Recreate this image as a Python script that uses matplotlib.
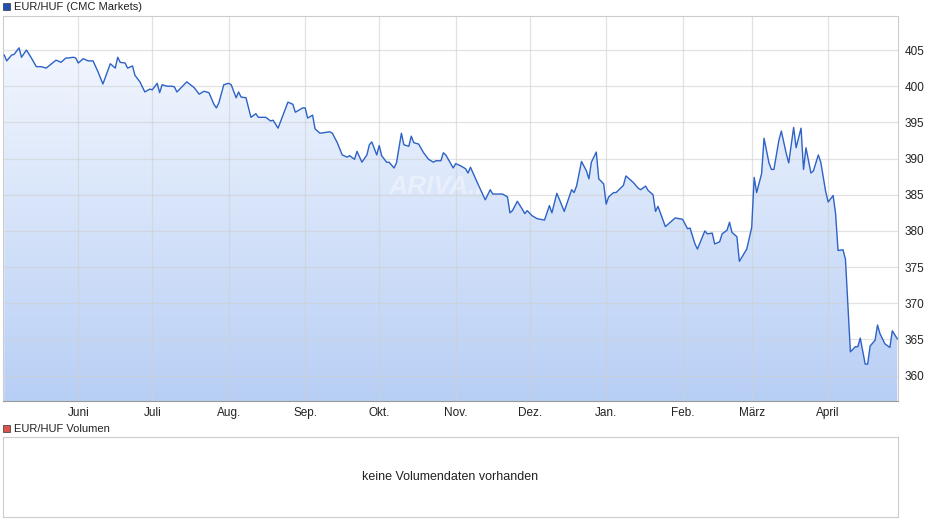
import numpy as np
import pandas as pd
import matplotlib
matplotlib.use('Agg')
import matplotlib.pyplot as plt
import matplotlib.dates as mdates
from matplotlib.patches import Rectangle

start = pd.Timestamp('2024-05-02')
days = [0, 1, 3, 4, 6, 7, 9, 11, 13, 15, 17, 21, 23, 25, 26, 28, 29, 30, 32, 34, 36, 38, 40, 43, 45,
        46, 47, 49, 50, 52, 53, 55, 57, 59, 60, 62, 63, 64, 66, 68, 69, 70, 72, 74, 77, 79, 81, 83, 85,
        86, 87, 89, 91, 92, 94, 95, 96, 98, 100, 102, 103, 106, 108, 109, 111, 112, 115, 117, 118, 121,
        122, 123, 125, 126, 128, 132, 133, 135, 137, 139, 140, 142, 143, 145, 147, 148, 149, 151, 152,
        153, 155, 156, 158, 159, 161, 162, 164, 165, 166, 168, 170, 172, 174, 175, 177, 178, 179, 181,
        182, 183, 185, 187, 188, 189, 192, 195, 197, 198, 202, 204, 205, 206, 208, 210, 211, 212, 214,
        216, 219, 221, 222, 224, 225, 227, 228, 230, 231, 232, 234, 236, 237, 238, 240, 241, 243, 244,
        245, 247, 248, 251, 252, 254, 255, 257, 258, 260, 261, 263, 264, 265, 268, 272, 275, 277, 278,
        280, 281, 284, 285, 287, 288, 290, 291, 293, 294, 295, 297, 298, 301, 303, 304, 305, 307, 308,
        310, 311, 312, 314, 315, 317, 318, 320, 321, 323, 324, 325, 327, 328, 330, 331, 333, 334, 336,
        337, 338, 340, 341, 343, 345, 346, 347, 349, 350, 351, 353, 354, 355, 357, 359, 360, 362]
rate = [404.3, 403.5, 404.3, 404.4, 405.3, 404.0, 405.0, 403.9, 402.7, 402.7, 402.5, 403.6, 403.3,
        403.9, 403.9, 404.0, 403.9, 403.2, 403.8, 403.5, 403.5, 402.0, 400.3, 403.1, 402.5, 404.0,
        403.3, 403.2, 402.5, 402.8, 401.5, 400.6, 399.2, 399.6, 399.5, 400.4, 399.1, 400.2, 400.0,
        400.0, 399.9, 399.2, 399.9, 400.6, 399.8, 398.9, 399.3, 399.1, 397.5, 397.0, 397.7, 400.2,
        400.4, 400.2, 398.4, 399.2, 398.5, 398.4, 395.7, 396.2, 395.7, 395.7, 395.2, 395.3, 394.2,
        395.1, 397.8, 397.5, 396.4, 397.0, 397.0, 395.6, 396.0, 394.1, 393.5, 393.7, 393.5, 392.2,
        390.5, 390.2, 390.4, 389.9, 391.0, 389.5, 390.5, 391.9, 392.3, 390.5, 391.8, 390.4, 389.5,
        389.5, 388.7, 389.4, 393.5, 391.9, 391.7, 393.1, 392.2, 392.0, 390.8, 389.9, 389.5, 389.7,
        389.7, 390.8, 390.5, 389.3, 388.7, 389.3, 389.0, 388.6, 388.0, 388.8, 386.5, 384.3, 385.7,
        385.1, 385.1, 384.7, 382.5, 382.8, 384.1, 383.0, 382.4, 382.8, 382.1, 381.7, 381.5, 383.5,
        382.5, 385.2, 384.4, 382.7, 383.7, 385.7, 385.3, 386.2, 389.6, 388.3, 387.2, 389.5, 390.9,
        387.2, 386.5, 383.7, 384.7, 385.3, 385.3, 386.3, 387.6, 387.0, 386.7, 385.9, 385.7, 386.2,
        385.6, 385.0, 382.7, 383.4, 380.6, 381.8, 381.6, 380.3, 380.4, 378.2, 377.5, 380.0, 379.6,
        379.7, 378.2, 378.5, 379.6, 380.1, 381.2, 379.8, 379.2, 375.8, 377.5, 380.5, 387.4, 385.3,
        387.9, 392.8, 389.4, 388.5, 388.5, 392.5, 393.8, 390.7, 389.4, 394.3, 391.5, 394.2, 388.5,
        391.5, 388.0, 388.3, 390.5, 389.5, 385.4, 384.0, 384.9, 382.4, 377.3, 377.4, 376.1, 363.3,
        364.0, 364.0, 365.2, 361.6, 361.6, 364.1, 364.9, 367.0, 365.8, 364.4, 363.9, 366.2, 365.1]
month_labels = ['Juni', 'Juli', 'Aug.', 'Sep.', 'Okt.', 'Nov.', 'Dez.', 'Jan.', 'Feb.', 'März', 'April']
month_starts = pd.date_range('2024-06-01', periods=11, freq='MS')
y_ticks = [360, 365, 370, 375, 380, 385, 390, 395, 400, 405]

dates = start + pd.to_timedelta(days, unit='D')
x = mdates.date2num(dates)

plt.rcParams['font.family'] = ['Liberation Sans', 'DejaVu Sans']
fig = plt.figure(figsize=(9.4, 5.26), dpi=100)
W, H = 940, 526
ax = fig.add_axes([3 / W, 1 - 401 / H, 895 / W, 385 / H])

ymin, ymax = 356.5, 409.7
xmin = mdates.date2num(start) - 0.5
xmax = mdates.date2num(start) + 362.3
ax.set_xlim(xmin, xmax)
ax.set_ylim(ymin, ymax)

# gradient fill under the line
grad = np.linspace(0, 1, 256).reshape(-1, 1)
top = np.array([0.97, 0.98, 1.0])
bot = np.array([0.72, 0.81, 0.96])
img = top + (bot - top) * grad[..., None]
im = ax.imshow(img, extent=[xmin, xmax, ymin, ymax], aspect='auto', origin='upper', zorder=1)
poly = ax.fill_between(x, rate, ymin, color='none', lw=0)
im.set_clip_path(poly.get_paths()[0], transform=ax.transData)

ax.plot(x, rate, color='#2d62c6', lw=1.0, zorder=3)

ax.set_xticks(mdates.date2num(month_starts))
ax.set_xticklabels(month_labels)
ax.set_yticks(y_ticks)
ax.yaxis.tick_right()
ax.grid(True, color='#d0d0d0', lw=0.9)
for g in ax.get_xgridlines() + ax.get_ygridlines():
    g.set_zorder(2)
    g.set_alpha(0.6)
ax.tick_params(length=0, labelsize=8.5, colors='#222222', pad=4)
ax.tick_params(axis='y', pad=5)
for s in ax.spines.values():
    s.set_color('#cccccc')
ax.spines['bottom'].set_color('#999999')

ax.text(0.5, 0.555, 'ARIVA.DE', transform=ax.transAxes, fontsize=19, fontweight='bold',
        style='italic', color='white', alpha=0.4, ha='center', va='center', zorder=2)

# title legend
fig.patches.append(Rectangle((3 / W, 1 - 10 / H), 7 / W, 7 / H, transform=fig.transFigure,
                             facecolor='#1f4fb3', edgecolor='#333333', lw=0.5))
fig.text(14 / W, 1 - 6.5 / H, 'EUR/HUF (CMC Markets)', fontsize=8, va='center', color='#222222')

fig.patches.append(Rectangle((3 / W, 1 - 432 / H), 7 / W, 7 / H, transform=fig.transFigure,
                             facecolor='#d9534f', edgecolor='#333333', lw=0.5))
fig.text(14 / W, 1 - 428.5 / H, 'EUR/HUF Volumen', fontsize=8, va='center', color='#222222')

ax2 = fig.add_axes([3 / W, 1 - 517 / H, 895 / W, 80 / H])
ax2.set_xticks([])
ax2.set_yticks([])
for s in ax2.spines.values():
    s.set_color('#cccccc')
ax2.text(0.5, 0.5, 'keine Volumendaten vorhanden', transform=ax2.transAxes,
         ha='center', va='center', fontsize=9, color='#222222')

fig.savefig('out.png', dpi=100)
